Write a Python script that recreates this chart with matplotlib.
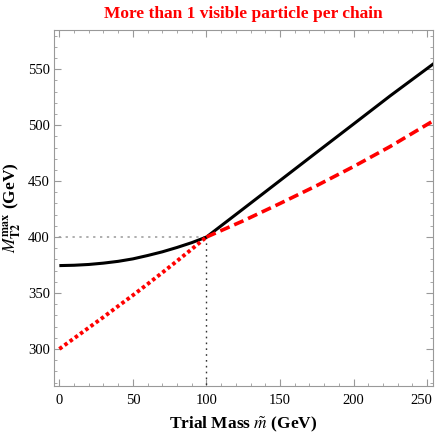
import matplotlib
matplotlib.use("Agg")
import matplotlib.pyplot as plt
from matplotlib.ticker import MultipleLocator
from matplotlib.transforms import ScaledTranslation

plt.rcParams['font.family'] = ['Liberation Serif', 'DejaVu Serif']
plt.rcParams['mathtext.fontset'] = 'stix'

# --- data ---
m_low = [0, 10, 20, 30, 40, 50, 60, 70, 80, 90, 100]
black_low = [374.5, 374.8, 375.5, 376.7, 378.3, 380.5, 383.5, 386.8, 390.7, 395.0, 400.0]
red_low = [300, 309.5, 319, 328.5, 338.3, 348, 358, 368.2, 378.6, 389.2, 400]

m_high = [100, 125, 150, 175, 200, 225, 255]
black_high = [400, 425.2, 450.5, 475.8, 501, 526.3, 555.5]
red_high = [400, 414.5, 430, 446, 463, 481, 504.5]

m_true = 100
mt2_true = 400

fig = plt.figure(figsize=(4.36, 4.36), dpi=100)
ax = fig.add_axes([0.124, 0.115, 0.869, 0.816])

ax.plot(m_low + m_high[1:], black_low + black_high[1:], color='black', lw=2.2,
        solid_capstyle='butt', zorder=3)
ax.plot(m_low, red_low, color='red', lw=2.8, linestyle=(0, (0.9, 0.75)), zorder=4)
ax.plot(m_high, red_high, color='red', lw=2.6, linestyle=(0, (2.8, 1.4)), zorder=4)

# reference lines at the true mass
ax.plot([-10, m_true], [mt2_true, mt2_true], color='#999999', lw=1.1,
        linestyle=(0, (1.5, 3)), zorder=2)
ax.plot([m_true, m_true], [200, mt2_true], color='#333333', lw=1.0,
        linestyle=(0, (1.2, 3)), zorder=2)

ax.set_xlim(-3.6, 254)
ax.set_ylim(267, 585)

ax.xaxis.set_major_locator(MultipleLocator(50))
ax.xaxis.set_minor_locator(MultipleLocator(10))
ax.yaxis.set_major_locator(MultipleLocator(50))
ax.yaxis.set_minor_locator(MultipleLocator(10))
ax.tick_params(which='both', direction='in', top=True, right=True,
               color='#999999', labelsize=10.5)
ax.tick_params(axis='x', pad=6)
ax.tick_params(axis='y', pad=3)
ax.tick_params(which='major', length=5)
ax.tick_params(which='minor', length=2.5)
for s in ax.spines.values():
    s.set_color('#999999')

ax.set_title('More than 1 visible particle per chain', color='red',
             fontweight='bold', fontsize=12.5, pad=9)
ax.set_xlabel(r'Trial Mass $\tilde{m}$ (GeV)', fontweight='bold', fontsize=12.5)
ax.set_ylabel(r'$M_{\mathbf{T2}}^{\mathbf{max}}$ (GeV)', fontweight='bold', fontsize=12.5)
ax.xaxis.set_label_coords(0.5, -0.08)
ax.yaxis.set_label_coords(-0.082, 0.5)

# nudge the last x label so it stays inside the figure
fig.canvas.draw()
for t in ax.xaxis.get_major_ticks():
    if abs(t.get_loc() - 250) < 1e-6:
        t.label1.set_transform(t.label1.get_transform()
                               + ScaledTranslation(-4 / 72, 0, fig.dpi_scale_trans))

fig.savefig('out.png', dpi=100)
